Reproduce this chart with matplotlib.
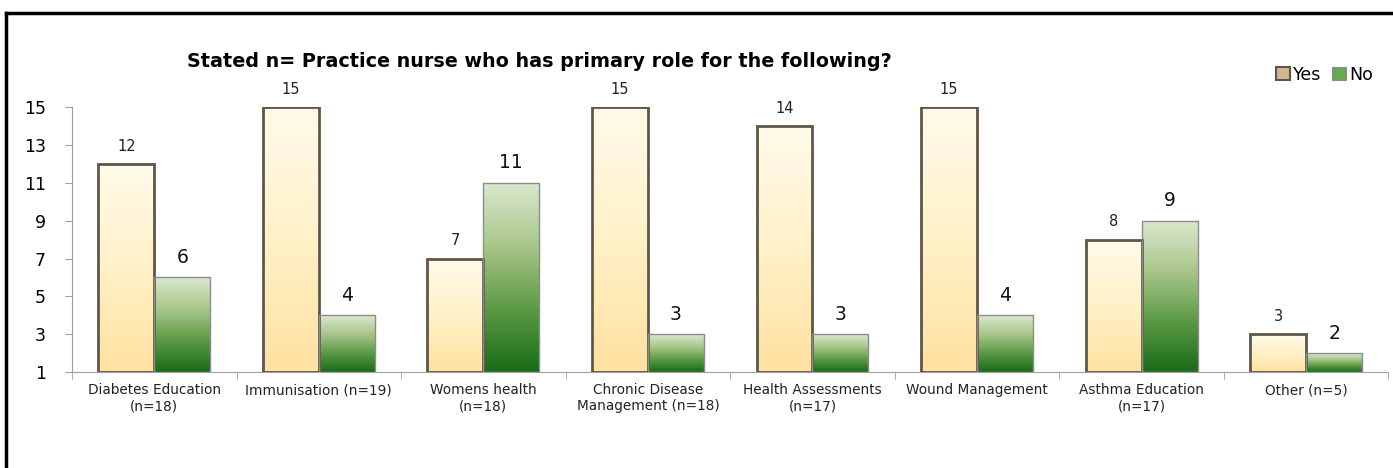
import numpy as np
import matplotlib
matplotlib.use("Agg")
import matplotlib.pyplot as plt
from matplotlib.patches import Patch
from matplotlib.colors import LinearSegmentedColormap
from matplotlib.lines import Line2D

categories = ["Diabetes Education\n(n=18)", "Immunisation (n=19)", "Womens health\n(n=18)",
              "Chronic Disease\nManagement (n=18)", "Health Assessments\n(n=17)",
              "Wound Management", "Asthma Education\n(n=17)", "Other (n=5)"]
yes_vals = [12, 15, 7, 15, 14, 15, 8, 3]
no_vals = [6, 4, 11, 3, 3, 4, 9, 2]
yticks = [1, 3, 5, 7, 9, 11, 13, 15]

fig = plt.figure(figsize=(13.93, 4.68), dpi=100)
ax = fig.add_axes([0.0517, 0.205, 0.945, 0.566])

yes_cmap = LinearSegmentedColormap.from_list("yes", ["#ffe1a0", "#fff1c8", "#fffaea"])
no_cmap = LinearSegmentedColormap.from_list("no", ["#176b17", "#5c9a45", "#a9c68a", "#dbe8cf"])
grad = np.linspace(0, 1, 256).reshape(-1, 1)

x = np.arange(len(categories))
width = 0.34
base = 1

def grad_bar(xc, val, cmap, edge, lw):
    b = ax.bar(xc, val - base, width, bottom=base, facecolor="none",
               edgecolor=edge, linewidth=lw, zorder=3)[0]
    im = ax.imshow(grad, cmap=cmap, origin="lower", aspect="auto",
                   extent=[xc - width / 2, xc + width / 2, base, val], zorder=2)
    im.set_clip_path(b)

for i in range(len(categories)):
    grad_bar(x[i] - width / 2, yes_vals[i], yes_cmap, "#5e5648", 2.0)
    grad_bar(x[i] + width / 2, no_vals[i], no_cmap, "#8c8c8c", 1.0)
    ax.text(x[i] - width / 2, yes_vals[i] + 0.55, str(yes_vals[i]), ha="center",
            va="bottom", fontsize=10.5, color="#222222", clip_on=False)
    ax.text(x[i] + width / 2, no_vals[i] + 0.55, str(no_vals[i]), ha="center",
            va="bottom", fontsize=13.5, color="#111111", clip_on=False)

ax.set_xlim(-0.5, len(categories) - 0.5)
ax.set_ylim(1, 15)
ax.set_yticks(yticks)
ax.set_yticklabels([str(t) for t in yticks], fontsize=12.5)
ax.set_xticks(x)
ax.set_xticklabels(categories, fontsize=9.8, color="#222222")
ax.set_xticks(np.arange(len(categories) + 1) - 0.5, minor=True)
ax.tick_params(axis="x", which="major", length=0, pad=8)
ax.tick_params(axis="x", which="minor", length=5, color="#a0a0a0")
ax.tick_params(axis="y", length=5, color="#a0a0a0", pad=14)
for s in ["top", "right"]:
    ax.spines[s].set_visible(False)
for s in ["left", "bottom"]:
    ax.spines[s].set_color("#a0a0a0")

fig.text(0.387, 0.868, "Stated n= Practice nurse who has primary role for the following?",
         ha="center", va="center", fontsize=13.8, fontweight="bold")

handles = [Patch(facecolor="#cdb892", edgecolor="#5e5648", linewidth=1.5, label="Yes"),
           Patch(facecolor="#6aa84f", edgecolor="#8c8c8c", linewidth=0.8, label="No")]
fig.legend(handles=handles, loc="center right", bbox_to_anchor=(0.997, 0.84), ncol=2,
           frameon=False, fontsize=12.5, handlelength=0.8, handleheight=0.8,
           handletextpad=0.2, columnspacing=0.6)

# chart border (top and left edges visible)
fig.add_artist(Line2D([6 / 1393, 1], [1 - 13 / 468, 1 - 13 / 468], color="black", lw=2.5))
fig.add_artist(Line2D([6 / 1393, 6 / 1393], [0, 1 - 13 / 468], color="black", lw=2.5))

fig.savefig("out.png", dpi=100)
